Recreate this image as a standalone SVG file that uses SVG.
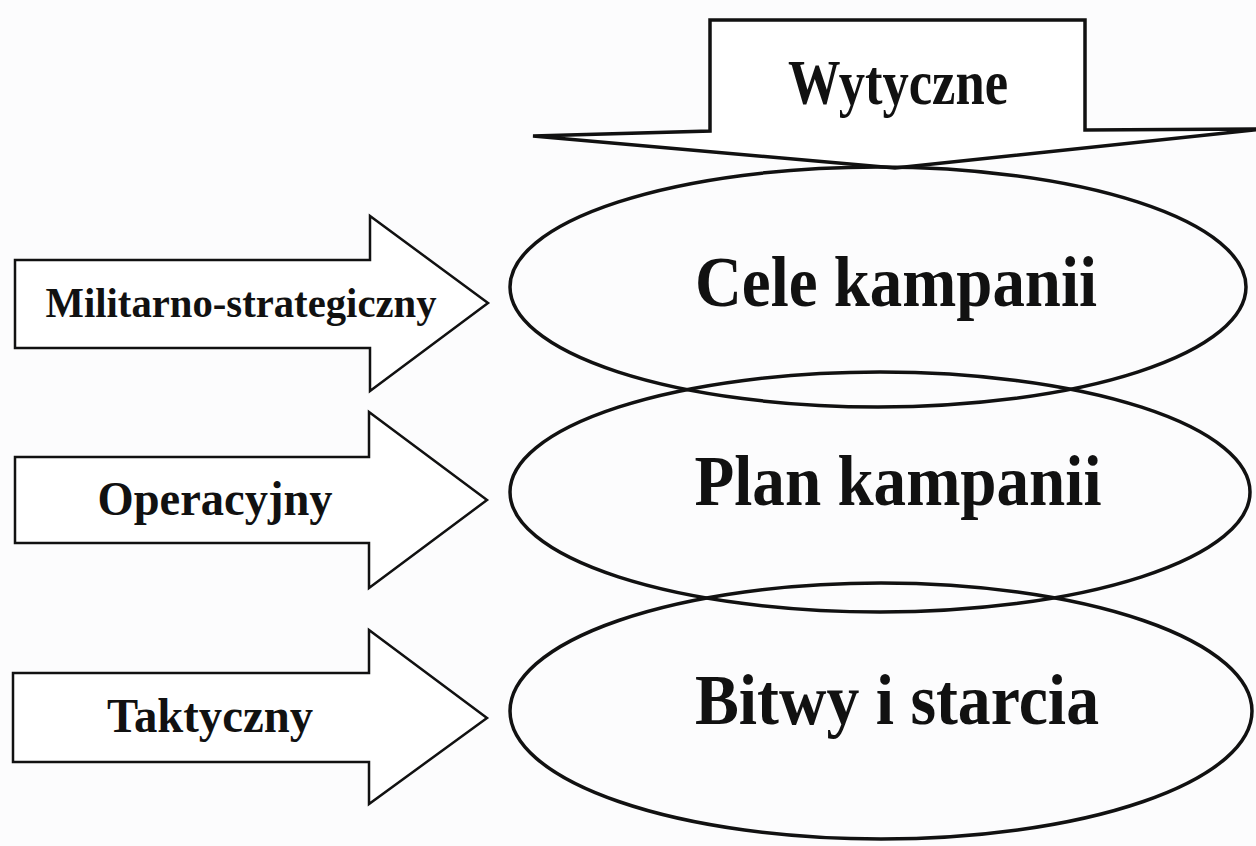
<svg xmlns="http://www.w3.org/2000/svg" width="1256" height="846" viewBox="0 0 1256 846">
<style>
.bg{fill:#fcfcfd}
.arrow{fill:#ffffff;stroke:#111;stroke-width:2.5;stroke-linejoin:miter}
.big-arrow{fill:#ffffff;stroke:#111;stroke-width:3.5;stroke-linejoin:miter}
.oval{fill:none;stroke:#111;stroke-width:3.5}
.lbl{font-family:"Liberation Serif","Times New Roman",serif;font-weight:bold;fill:#111;text-anchor:middle}
.main{font-size:71px}
</style>
<rect class="bg" x="0" y="0" width="1256" height="846"/>

<g id="node-wytyczne">
  <polygon class="big-arrow" points="710,20 1085,20 1085,130 1262,129 895,168 533,136 710,131"/>
  <text class="lbl" x="898" y="104" font-size="64" textLength="220" lengthAdjust="spacingAndGlyphs">Wytyczne</text>
</g>

<g id="node-militarno">
  <polygon class="arrow" points="15,260 370,260 370,216 488,303 370,391 370,348 15,348"/>
  <text class="lbl" x="241" y="317" font-size="43" textLength="391" lengthAdjust="spacingAndGlyphs">Militarno-strategiczny</text>
</g>

<g id="node-operacyjny">
  <polygon class="arrow" points="15,457 369,457 369,412 487,500 369,588 369,543 15,543"/>
  <text class="lbl" x="215" y="515" font-size="48" textLength="235" lengthAdjust="spacingAndGlyphs">Operacyjny</text>
</g>

<g id="node-taktyczny">
  <polygon class="arrow" points="13,673 369,673 369,630 487,718 369,804 369,762 13,762"/>
  <text class="lbl" x="210" y="732" font-size="48" textLength="206" lengthAdjust="spacingAndGlyphs">Taktyczny</text>
</g>

<g id="node-cele">
  <ellipse class="oval" cx="878" cy="287" rx="368" ry="120"/>
  <text class="lbl main" x="896" y="306" textLength="402" lengthAdjust="spacingAndGlyphs">Cele kampanii</text>
</g>

<g id="node-plan">
  <ellipse class="oval" cx="880" cy="492" rx="370" ry="120"/>
  <text class="lbl main" x="898" y="505" textLength="407" lengthAdjust="spacingAndGlyphs">Plan kampanii</text>
</g>

<g id="node-bitwy">
  <ellipse class="oval" cx="881" cy="711" rx="371" ry="128"/>
  <text class="lbl main" x="897" y="724" textLength="404" lengthAdjust="spacingAndGlyphs">Bitwy i starcia</text>
</g>

<g id="connectors"></g>
</svg>
